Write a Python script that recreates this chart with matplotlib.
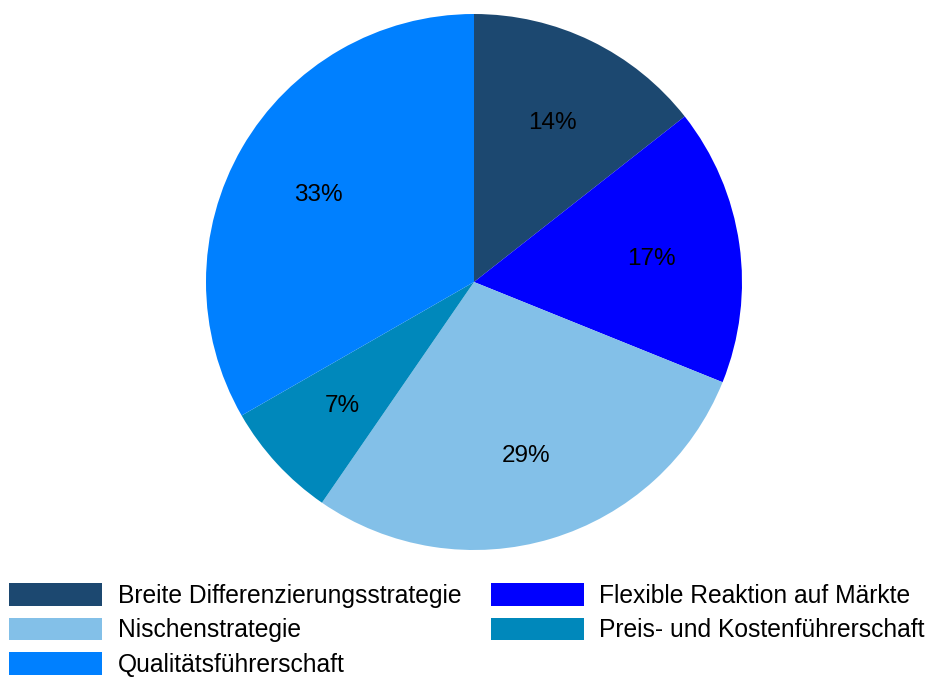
import matplotlib.pyplot as plt
from matplotlib.patches import Patch

plt.rcParams['font.family'] = ['Liberation Sans', 'DejaVu Sans']

labels = ['Breite Differenzierungsstrategie', 'Flexible Reaktion auf Märkte',
          'Nischenstrategie', 'Preis- und Kostenführerschaft', 'Qualitätsführerschaft']
shares = [14.4, 16.7, 28.5, 7.1, 33.3]
pct_labels = ['14%', '17%', '29%', '7%', '33%']
colors = ['#1C4870', '#0000FF', '#83C0E8', '#0088BB', '#0080FF']

fig = plt.figure(figsize=(9.3, 6.77), dpi=100)
ax = fig.add_axes([206 / 930, 1 - 550 / 677, 536 / 930, 536 / 677])

pct_iter = iter(pct_labels)
wedges, texts, autotexts = ax.pie(shares, colors=colors, startangle=90, counterclock=False,
                                  autopct=lambda p: next(pct_iter), pctdistance=0.67,
                                  textprops={'fontsize': 17.5, 'color': 'black'})
for t in autotexts:
    t.set_va('center_baseline')
ax.set_xlim(-1, 1)
ax.set_ylim(-1, 1)
ax.set_aspect('equal')

# legend fills column by column, so left column gets items 0, 2, 4
order = [0, 2, 4, 1, 3]
handles = [Patch(facecolor=colors[i], edgecolor='none') for i in order]
fig.legend(handles, [labels[i] for i in order], ncol=2, loc='upper left',
           bbox_to_anchor=(9 / 930, 1 - 583 / 677), frameon=False, fontsize=17.7,
           handlelength=3.8, handleheight=1.05, handletextpad=0.62,
           columnspacing=1.2, labelspacing=0.4, borderpad=0, borderaxespad=0)

fig.savefig('out.png', dpi=100)
